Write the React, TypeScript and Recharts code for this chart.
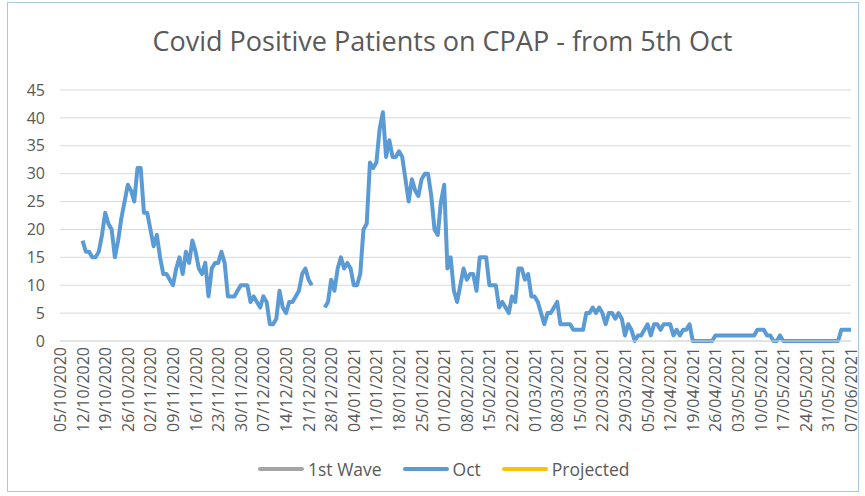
import { CartesianGrid, Legend, Line, LineChart, XAxis, YAxis } from "recharts";

// weekly tick labels, one per 7 days starting 05/10/2020
const weekLabels = [
  "05/10/2020", "12/10/2020", "19/10/2020", "26/10/2020", "02/11/2020", "09/11/2020",
  "16/11/2020", "23/11/2020", "30/11/2020", "07/12/2020", "14/12/2020", "21/12/2020",
  "28/12/2020", "04/01/2021", "11/01/2021", "18/01/2021", "25/01/2021", "01/02/2021",
  "08/02/2021", "15/02/2021", "22/02/2021", "01/03/2021", "08/03/2021", "15/03/2021",
  "22/03/2021", "29/03/2021", "05/04/2021", "12/04/2021", "19/04/2021", "26/04/2021",
  "03/05/2021", "10/05/2021", "17/05/2021", "24/05/2021", "31/05/2021", "07/06/2021",
];

const yTicks = [0, 5, 10, 15, 20, 25, 30, 35, 40, 45];

// daily patients on CPAP, day 0 = 05/10/2020
const octPatients: (number | null)[] = [
  null, null, null, null, null, null, null,
  18, 16, 16, 15, 15, 16, 19, 23, 21, 20,
  15, 18, 22, 25, 28, 27, 25, 31, 31, 23,
  23, 20, 17, 19, 15, 12, 12, 11, 10, 13,
  15, 12, 16, 14, 18, 16, 13, 12, 14, 8,
  13, 14, 14, 16, 14, 8, 8, 8, 9, 10,
  10, 10, 7, 8, 7, 6, 8, 7, 3, 3,
  4, 9, 6, 5, 7, 7, 8, 9, 12, 13,
  11, 10,
  null, null, null,
  6, 7, 11, 9, 13, 15, 13, 14, 13, 10,
  10, 12, 20, 21, 32, 31, 32, 38, 41, 33,
  36, 33, 33, 34, 33, 29, 25, 29, 27, 26,
  29, 30, 30, 26, 20, 19, 25, 28, 13, 15,
  9, 7, 10, 13, 11, 12, 12, 9, 15, 15,
  15, 10, 10, 10, 6, 7, 6, 5, 8, 7,
  13, 13, 11, 12, 8, 8, 7, 5, 3, 5,
  5, 6, 7, 3,
  3, 3, 3, 2, 2, 2, 2,
  5, 5, 6, 5, 6, 5, 3, 5, 5, 4,
  5, 4, 1, 3, 2, 0, 1, 1, 2, 3,
  1, 3, 3, 2, 3, 3, 3, 1, 2, 1,
  2, 2, 3, 0,
  0, 0, 0, 0, 0, 0,
  1, 1, 1, 1, 1, 1, 1, 1, 1, 1, 1, 1, 1,
  2, 2, 2, 1, 1, 0, 0, 1,
  0, 0, 0, 0, 0, 0, 0, 0, 0, 0, 0, 0, 0, 0, 0, 0, 0, 0,
  2, 2, 2, 2,
];

// these two series have no points in this period
const firstWave: (number | null)[] = [];
const projected: (number | null)[] = [];

const seriesNames = ["1st Wave", "Oct", "Projected"];
const seriesColors = ["#A5A5A5", "#5B9BD5", "#FFC000"];

const data = octPatients.map((v, i) => ({
  day: i,
  wave1: firstWave[i] ?? null,
  oct: v,
  projected: projected[i] ?? null,
}));

const FONT = "'Open Sans', sans-serif";
const TEXT = "#595959";

const DateTick = (props: any) => {
  const { x, y, payload } = props;
  return (
    <text
      x={x}
      y={y}
      transform={`rotate(-90 ${x} ${y})`}
      textAnchor="end"
      dominantBaseline="central"
      fill={TEXT}
      fontSize={16}
      fontFamily={FONT}
    >
      {weekLabels[Math.round(payload.value / 7)]}
    </text>
  );
};

const LegendRow = () => (
  <div style={{ display: "flex", alignItems: "center", fontFamily: FONT, fontSize: 17.5, color: TEXT, whiteSpace: "nowrap" }}>
    {seriesNames.map((n, i) => (
      <div key={n} style={{ display: "flex", alignItems: "center", marginRight: i < 2 ? 21 : 0 }}>
        <span
          style={{
            display: "inline-block",
            width: 46,
            height: 4,
            borderRadius: 2,
            background: seriesColors[i],
            marginRight: 4,
          }}
        />
        <span>{n}</span>
      </div>
    ))}
  </div>
);

export default function App() {
  return (
    <div
      style={{
        position: "absolute",
        left: 0,
        top: 0,
        width: 865,
        height: 496,
        background: "#fff",
        overflow: "hidden",
      }}
    >
      <div
        style={{
          position: "absolute",
          left: 7,
          top: 2,
          width: 850,
          height: 488,
          border: "1px solid #A9C7E8",
        }}
      />
      <div
        style={{
          position: "absolute",
          top: 22,
          left: 0,
          width: 885,
          textAlign: "center",
          fontFamily: FONT,
          fontSize: 27,
          color: TEXT,
          whiteSpace: "nowrap",
        }}
      >
        Covid Positive Patients on CPAP - from 5th Oct
      </div>
      <LineChart width={865} height={496} data={data} margin={{ top: 90, right: 14, bottom: 55, left: 10 }}>
        <CartesianGrid vertical={false} stroke="#D9D9D9" strokeWidth={1} />
        <XAxis
          dataKey="day"
          type="number"
          domain={[0, 245]}
          ticks={weekLabels.map((_, i) => i * 7)}
          interval={0}
          tick={<DateTick />}
          tickLine={false}
          tickMargin={0}
          axisLine={{ stroke: "#D9D9D9" }}
          height={100}
        />
        <YAxis
          domain={[0, 45]}
          ticks={yTicks}
          interval={0}
          width={50}
          axisLine={false}
          tickLine={false}
          tickMargin={9}
          tick={{ fill: TEXT, fontSize: 16, fontFamily: FONT }}
        />
        <Line dataKey="wave1" name={seriesNames[0]} stroke={seriesColors[0]} strokeWidth={4} dot={false} isAnimationActive={false} />
        <Line
          dataKey="oct"
          name={seriesNames[1]}
          stroke={seriesColors[1]}
          strokeWidth={4}
          strokeLinejoin="round"
          dot={false}
          isAnimationActive={false}
        />
        <Line dataKey="projected" name={seriesNames[2]} stroke={seriesColors[2]} strokeWidth={4} dot={false} isAnimationActive={false} />
        <Legend
          verticalAlign="middle"
          align="center"
          content={<LegendRow />}
          wrapperStyle={{ top: 457, left: 258, width: "auto" }}
        />
      </LineChart>
    </div>
  );
}
